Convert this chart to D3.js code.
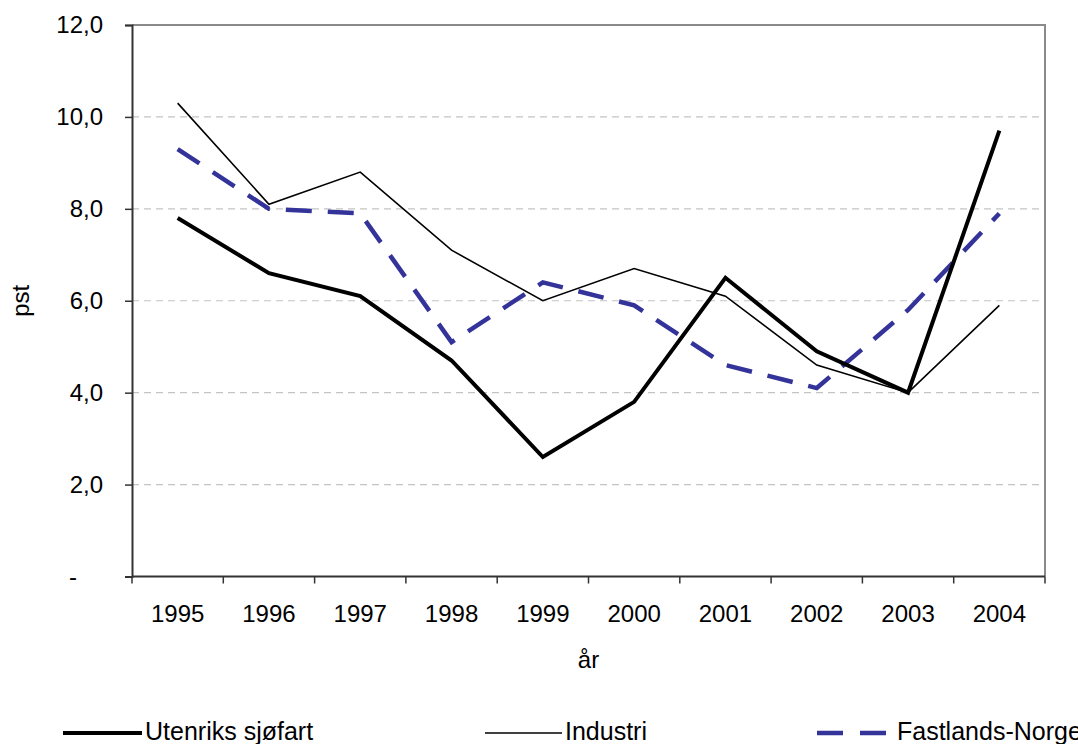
<!DOCTYPE html>
<html>
<head>
<meta charset="utf-8">
<script src="https://cdn.jsdelivr.net/npm/d3@7/dist/d3.min.js"></script>
<style>
  html, body { margin: 0; padding: 0; background: #fff; }
  svg { display: block; font-family: "Liberation Sans", Arial, sans-serif; }
</style>
</head>
<body>
<svg id="chart" width="1078" height="744"></svg>
<script>
// Årlig vekst, prosent
const years = ["1995","1996","1997","1998","1999","2000","2001","2002","2003","2004"];
const utenriksSjofart = [7.8, 6.6, 6.1, 4.7, 2.6, 3.8, 6.5, 4.9, 4.0, 9.7];
const industri        = [10.3, 8.1, 8.8, 7.1, 6.0, 6.7, 6.1, 4.6, 4.0, 5.9];
const fastlandsNorge  = [9.3, 8.0, 7.9, 5.1, 6.4, 5.9, 4.6, 4.1, 5.8, 7.9];
const yTicks = [0, 2, 4, 6, 8, 10, 12];
const seriesNames = ["Utenriks sjøfart", "Industri", "Fastlands-Norge"];
const yTitle = "pst";
const xTitle = "år";

const svg = d3.select("#chart");
const plot = { left: 132, right: 1045, top: 25, bottom: 576.5 };

const x = d3.scaleBand().domain(years).range([plot.left, plot.right]).padding(0);
const y = d3.scaleLinear().domain([0, 12]).range([plot.bottom, plot.top]);

const fmt = d => d === 0 ? "-" : d.toFixed(1).replace(".", ",");

// horisontale hjelpelinjer
svg.append("g").selectAll("line")
  .data(yTicks.filter(d => d > 0 && d < 12))
  .join("line")
  .attr("x1", plot.left).attr("x2", plot.right)
  .attr("y1", d => y(d)).attr("y2", d => y(d))
  .attr("stroke", "#c4c4c4").attr("stroke-width", 1.2)
  .attr("stroke-dasharray", "7,5");

// ramme (topp og høyre)
svg.append("path")
  .attr("d", `M${plot.left},${y(12)}H${plot.right}V${plot.bottom}`)
  .attr("fill", "none").attr("stroke", "#8a8a8a").attr("stroke-width", 2);

// y-akse
const yAxis = svg.append("g")
  .attr("transform", `translate(${plot.left},0)`)
  .call(d3.axisLeft(y).tickValues(yTicks).tickSize(7).tickPadding(22).tickFormat(fmt));
yAxis.select(".domain").attr("stroke", "#333").attr("stroke-width", 2);
yAxis.selectAll(".tick line").attr("stroke", "#333").attr("stroke-width", 1.5);
yAxis.selectAll(".tick text")
  .attr("font-size", 24).attr("fill", "#000")
  .attr("font-family", "Liberation Sans, Arial, sans-serif")
  .attr("dx", d => d === 0 ? -26 : 0);

// x-akse: streker på kategorigrensene, etiketter midt i hver kategori
const xAxis = svg.append("g").attr("transform", `translate(0,${plot.bottom})`);
xAxis.append("line").attr("x1", plot.left).attr("x2", plot.right)
  .attr("stroke", "#333").attr("stroke-width", 2);
xAxis.selectAll("line.tk")
  .data(years.map(d => x(d)).concat([x.range()[1]]))
  .join("line").attr("class", "tk")
  .attr("x1", d => d).attr("x2", d => d).attr("y1", 0).attr("y2", 7)
  .attr("stroke", "#333").attr("stroke-width", 1.5);
xAxis.selectAll("text")
  .data(years)
  .join("text")
  .attr("x", d => x(d) + x.bandwidth() / 2)
  .attr("y", 45)
  .attr("text-anchor", "middle")
  .attr("font-size", 24)
  .text(d => d);

// aksetitler
svg.append("text")
  .attr("transform", `translate(29,${(plot.top + plot.bottom) / 2}) rotate(-90)`)
  .attr("text-anchor", "middle").attr("font-size", 24).text(yTitle);
svg.append("text")
  .attr("x", (plot.left + plot.right) / 2).attr("y", 668)
  .attr("text-anchor", "middle").attr("font-size", 24).text(xTitle);

// linjer
const line = d3.line()
  .x((d, i) => x(years[i]) + x.bandwidth() / 2)
  .y(d => y(d));

const styles = [
  { data: utenriksSjofart, color: "#000", width: 4, dash: null },
  { data: industri,        color: "#000", width: 1.6, dash: null },
  { data: fastlandsNorge,  color: "#333399", width: 4.5, dash: "26,16" }
];

// tegn den stiplede først, deretter de svarte
[2, 1, 0].forEach(k => {
  const s = styles[k];
  svg.append("path")
    .datum(s.data)
    .attr("d", line)
    .attr("fill", "none")
    .attr("stroke", s.color)
    .attr("stroke-width", s.width)
    .attr("stroke-linejoin", "miter")
    .attr("stroke-dasharray", s.dash);
});

// tegnforklaring
const legendY = 733;
const legendItems = [
  { x1: 63, x2: 142, tx: 145 },
  { x1: 485, x2: 562, tx: 565 },
  { x1: 817, x2: 890, tx: 897 }
];
legendItems.forEach((it, k) => {
  const s = styles[k];
  svg.append("line")
    .attr("x1", it.x1).attr("x2", it.x2)
    .attr("y1", legendY).attr("y2", legendY)
    .attr("stroke", s.color).attr("stroke-width", s.width)
    .attr("stroke-dasharray", k === 2 ? "26,17" : null);
  svg.append("text")
    .attr("x", it.tx).attr("y", 740)
    .attr("font-size", 25)
    .text(seriesNames[k]);
});
</script>
</body>
</html>
